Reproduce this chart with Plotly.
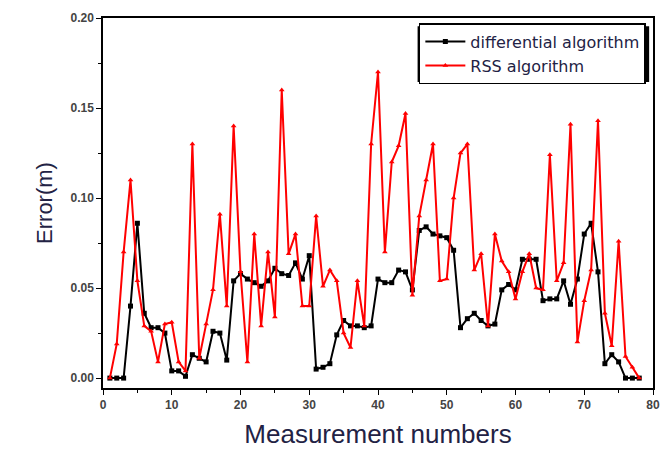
import plotly.graph_objects as go

measurement = list(range(1, 79))

differential = [
    0.000, 0.000, 0.000, 0.040, 0.086, 0.036, 0.028, 0.028, 0.025, 0.004,
    0.004, 0.001, 0.013, 0.011, 0.009, 0.026, 0.025, 0.010, 0.054, 0.058,
    0.055, 0.053, 0.051, 0.054, 0.061, 0.058, 0.057, 0.064, 0.055, 0.068,
    0.005, 0.006, 0.008, 0.024, 0.032, 0.029, 0.029, 0.028, 0.029, 0.055,
    0.053, 0.053, 0.060, 0.059, 0.049, 0.082, 0.084, 0.080, 0.079, 0.078,
    0.071, 0.028, 0.033, 0.036, 0.032, 0.029, 0.030, 0.049, 0.052, 0.049,
    0.066, 0.066, 0.066, 0.043, 0.044, 0.044, 0.054, 0.041, 0.055, 0.080,
    0.086, 0.059, 0.008, 0.013, 0.009, 0.000, 0.000, 0.000,
]

rss = [
    0.000, 0.019, 0.070, 0.110, 0.054, 0.029, 0.026, 0.009, 0.030, 0.031,
    0.009, 0.004, 0.130, 0.011, 0.030, 0.049, 0.091, 0.040, 0.140, 0.059,
    0.009, 0.080, 0.029, 0.070, 0.034, 0.160, 0.069, 0.080, 0.040, 0.040,
    0.090, 0.051, 0.060, 0.054, 0.025, 0.017, 0.054, 0.029, 0.130, 0.170,
    0.070, 0.120, 0.129, 0.147, 0.046, 0.090, 0.110, 0.130, 0.054, 0.055,
    0.100, 0.125, 0.130, 0.060, 0.069, 0.029, 0.080, 0.065, 0.059, 0.044,
    0.059, 0.069, 0.050, 0.049, 0.124, 0.054, 0.064, 0.141, 0.020, 0.043,
    0.060, 0.143, 0.036, 0.018, 0.076, 0.012, 0.006, 0.000,
]

series_names = ["differential algorithm", "RSS algorithm"]
x_ticks = [0, 10, 20, 30, 40, 50, 60, 70, 80]
y_ticks = [0.00, 0.05, 0.10, 0.15, 0.20]

fig = go.Figure()
fig.add_trace(go.Scatter(
    x=measurement, y=differential, name=series_names[0], mode="lines+markers",
    line=dict(color="black", width=2),
    marker=dict(symbol="square", size=5, color="black"),
))
fig.add_trace(go.Scatter(
    x=measurement, y=rss, name=series_names[1], mode="lines+markers",
    line=dict(color="#ff0000", width=2),
    marker=dict(symbol="triangle-up", size=5, color="#ff0000"),
))

tickfont = dict(family="Liberation Sans, Arial, sans-serif", size=12, color="#444444", weight="bold")
axis_common = dict(
    showline=True, linecolor="black", linewidth=1.5, mirror=True,
    ticks="outside", ticklen=5, tickwidth=1.2, tickcolor="black",
    showgrid=False, zeroline=False, tickfont=tickfont,
)

fig.update_layout(
    width=668, height=457,
    margin=dict(l=103, r=8, t=18, b=69),
    paper_bgcolor="white", plot_bgcolor="white",
    font=dict(family="Liberation Sans, Arial, sans-serif", color="#222222"),
    xaxis=dict(
        range=[0, 80], tickvals=x_ticks, ticktext=[str(v) for v in x_ticks],
        minor=dict(ticks="outside", ticklen=3, tickcolor="black", dtick=5, tick0=0),
        title=dict(text="Measurement numbers", font=dict(size=26, color="#222244"), standoff=14),
        **axis_common,
    ),
    yaxis=dict(
        range=[-0.0055, 0.20], tickvals=y_ticks, ticktext=[f"{v:.2f}" for v in y_ticks],
        minor=dict(ticks="outside", ticklen=3, tickcolor="black", dtick=0.025, tick0=0),
        title=dict(text="Error(m)", font=dict(size=22, color="#222244"), standoff=12),
        **axis_common,
    ),
    legend=dict(
        x=0.987, y=0.986, xanchor="right", yanchor="top",
        bgcolor="white", bordercolor="black", borderwidth=1.5,
        font=dict(family="DejaVu Sans, Verdana, sans-serif", size=16, color="#222244"),
        tracegroupgap=0, itemwidth=40,
    ),
    shapes=[dict(
        type="rect", xref="paper", yref="paper",
        x0=0.572, x1=0.993, y0=0.827, y1=0.978,
        fillcolor="black", line=dict(width=0), layer="above",
    )],
    showlegend=True,
)

fig.write_html("out.html")
